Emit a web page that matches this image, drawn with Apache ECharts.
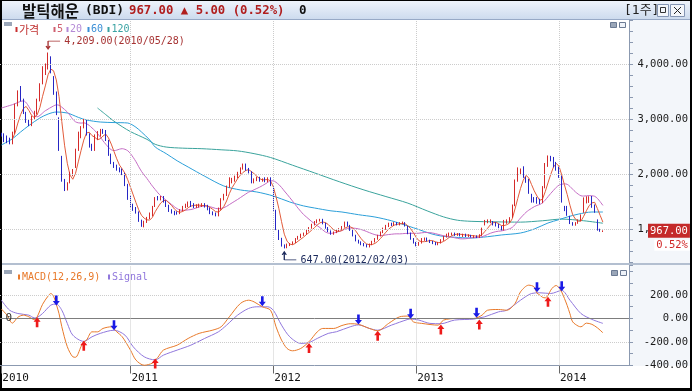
<!DOCTYPE html>
<html>
<head>
<meta charset="utf-8">
<script src="https://cdn.jsdelivr.net/npm/echarts@6/dist/echarts.min.js"></script>
<style>
html,body{margin:0;padding:0;background:#000;width:692px;height:391px;overflow:hidden;}
.bg{position:absolute;box-sizing:border-box;}
#chart{position:absolute;left:0;top:0;width:692px;height:391px;}
</style>
</head>
<body>
<div class="bg" style="left:2px;top:1px;width:688px;height:387px;background:#fff;"></div>
<div class="bg" style="left:2px;top:1px;width:688px;height:19px;background:linear-gradient(#eef3fb,#cddbee);border-bottom:1px solid #97a9c6;"></div>
<div class="bg" style="left:630px;top:20px;width:60px;height:346px;background:#f3f6fa;"></div>
<div class="bg" style="left:2px;top:262.5px;width:688px;height:2px;background:#b3bfd0;"></div>
<div id="chart"></div>
<script>
// ---------------- data ----------------
const startDate = Date.UTC(2010, 1, 12);   // first weekly bar
const padWeeks = 9;                          // empty weeks on the right
// weekly candles: [open, close, low, high]
const candles = [
[2720,2700,2680,2750],[2720,2600,2580,2740],[2680,2580,2560,2700],[2640,2560,2540,2660],[2560,2750,2540,2770],
[2750,3250,2730,3280],[3250,3490,3230,3520],[3560,3345,3320,3600],[3345,3110,3090,3370],[3110,2950,2930,3130],
[2980,2890,2870,3000],[2890,3040,2870,3060],[3020,3130,3000,3150],[3100,3345,3080,3370],[3345,3620,3320,3650],
[3650,3930,3630,3960],[3830,3980,3800,4010],[3930,4150,3900,4209],[4110,3855,3830,4140],[3745,3470,3440,3780],
[3470,3100,3070,3500],[3000,2450,2420,3030],[2300,1890,1860,2330],[1890,1710,1690,1910],[1710,1830,1700,1850],
[1850,2020,1830,2040],[1980,2070,1960,2090],[2130,2436,2110,2460],[2436,2745,2420,2770],[2670,2850,2650,2870],
[2850,2980,2830,3000],[2980,2720,2700,3000],[2720,2500,2480,2740],[2530,2440,2420,2550],[2440,2700,2420,2720],
[2640,2760,2620,2780],[2700,2800,2680,2820],[2800,2750,2730,2820],[2780,2620,2600,2800],[2600,2350,2330,2620],
[2350,2200,2180,2370],[2200,2130,2110,2220],[2150,2080,2060,2170],[2100,2050,2030,2120],[2080,2000,1980,2100],
[2000,1800,1780,2020],[1800,1550,1530,1820],[1580,1400,1380,1600],[1440,1350,1330,1460],[1380,1300,1280,1400],
[1300,1150,1130,1320],[1150,1050,1040,1170],[1050,1130,1030,1150],[1130,1200,1110,1220],[1200,1280,1180,1300],
[1250,1400,1230,1420],[1420,1560,1400,1580],[1580,1540,1520,1600],[1540,1580,1520,1600],[1580,1500,1480,1600],
[1500,1420,1400,1520],[1420,1330,1310,1440],[1340,1300,1280,1360],[1310,1270,1250,1330],[1300,1280,1260,1320],
[1290,1340,1270,1360],[1340,1400,1320,1420],[1400,1440,1380,1460],[1420,1480,1400,1500],[1490,1420,1400,1510],
[1450,1400,1380,1470],[1400,1430,1380,1450],[1410,1440,1390,1460],[1420,1450,1400,1470],[1450,1410,1390,1470],
[1420,1360,1340,1440],[1370,1290,1270,1390],[1300,1270,1250,1320],[1280,1250,1230,1300],[1250,1370,1230,1390],
[1370,1540,1350,1560],[1540,1620,1520,1640],[1620,1770,1600,1790],[1770,1920,1750,1940],[1850,1910,1830,1930],
[1880,1950,1860,1970],[1940,2020,1920,2040],[2020,2100,2000,2120],[2100,2170,2080,2190],[2170,2080,2060,2190],
[2090,2030,2010,2110],[2030,1850,1830,2050],[1850,1900,1830,1920],[1890,1930,1870,1950],[1930,1880,1860,1950],
[1880,1900,1860,1920],[1920,1870,1850,1940],[1870,1920,1850,1940],[1920,1800,1780,1940],[1750,1350,1330,1770],
[1330,1000,980,1350],[980,820,800,1000],[820,700,680,840],[700,660,647,720],[660,720,650,735],
[700,730,690,745],[730,760,715,775],[760,820,745,835],[820,860,805,875],[850,900,835,915],
[890,920,875,935],[910,980,895,995],[970,1020,955,1035],[1020,1080,1005,1095],[1080,1130,1065,1145],
[1120,1160,1105,1175],[1150,1170,1135,1185],[1170,1100,1085,1185],[1100,1020,1005,1115],[1020,960,945,1035],
[960,910,895,975],[910,940,895,955],[940,970,925,985],[970,1000,955,1015],[1000,1040,985,1055],
[1040,1120,1025,1135],[1120,1060,1045,1135],[1060,980,965,1075],[980,880,865,995],[880,790,775,895],
[790,750,735,805],[760,720,705,775],[730,700,685,745],[710,680,665,725],[680,720,665,735],
[720,770,705,785],[770,820,755,835],[820,880,805,895],[880,940,865,955],[940,1010,925,1025],
[1000,1060,985,1075],[1050,1100,1035,1115],[1100,1070,1055,1115],[1070,1110,1055,1125],[1110,1080,1065,1125],
[1080,1110,1065,1125],[1100,1120,1085,1135],[1110,1060,1045,1125],[1040,920,905,1055],[920,820,805,935],
[820,750,735,835],[750,700,685,765],[710,750,695,765],[750,820,735,835],[800,830,785,845],
[830,790,775,845],[790,760,745,805],[770,740,725,785],[750,720,705,765],[720,750,705,765],
[750,800,735,815],[800,860,785,875],[860,900,845,915],[880,920,865,935],[900,920,885,935],
[920,890,875,935],[890,910,875,925],[910,880,865,925],[870,900,855,915],[900,870,855,915],
[870,890,855,905],[880,860,845,895],[850,870,835,885],[870,850,835,885],[850,890,835,905],
[890,1010,875,1025],[1080,1150,1065,1165],[1120,1160,1105,1175],[1120,1160,1105,1175],[1130,1080,1065,1145],
[1110,1060,1045,1125],[1080,1030,1015,1095],[1040,990,975,1055],[990,1150,975,1165],[1110,1160,1095,1175],
[1130,1200,1115,1215],[1220,1430,1205,1445],[1430,1880,1415,1900],[1880,2100,1860,2120],[2000,2080,1980,2100],
[2120,1950,1930,2140],[1930,1860,1840,1950],[1890,1660,1640,1910],[1620,1500,1480,1640],[1560,1500,1480,1580],
[1560,1480,1460,1580],[1530,1470,1450,1550],[1490,1760,1470,1780],[1760,2180,1740,2200],[2150,2300,2130,2337],
[2310,2250,2230,2330],[2290,2140,2120,2310],[2200,2080,2060,2220],[2110,1950,1930,2130],[1950,1500,1480,1970],
[1400,1345,1325,1420],[1400,1260,1240,1420],[1220,1110,1090,1240],[1110,1075,1060,1125],[1075,1110,1060,1125],
[1110,1160,1095,1175],[1160,1250,1145,1265],[1310,1560,1295,1575],[1480,1580,1465,1595],[1490,1580,1475,1595],
[1580,1400,1385,1600],[1430,1310,1295,1445],[1160,985,970,1175],[990,962,950,1005],[958,967,945,975]
];
// MA lines: [weekIndex, value]
const ma20Head = [[0,3200],[4,3260],[8,3330],[11,3150],[13,3040],[16,3150]];
const ma60Pts = [[0,2527],[4,2640],[7,2764],[10,2880],[14,3018],[17,3090],[20,3127],[24,3109],[28,3030],[31,2982],
[36,2945],[41,2935],[46,2927],[49,2850],[51,2764],[54,2620],[56,2491],[60,2370],[64,2240],[68,2127],[74,1960],
[81,1782],[87,1710],[93,1673],[99,1600],[105,1491],[110,1420],[114,1382],[120,1330],[124,1309],[130,1260],
[136,1218],[142,1150],[148,1055],[152,990],[156,920],[160,873],[165,850],[171,836],[177,860],[182,891],
[189,927],[194,1000],[199,1109],[203,1170],[206,1218],[210,1270],[215,1309],[219,1309]];
const ma120Pts = [[35,3200],[38,3080],[41,2960],[44,2860],[47,2770],[50,2700],[53,2630],[56,2540],[60,2490],
[66,2470],[73,2460],[80,2440],[86,2420],[92,2370],[98,2300],[106,2160],[114,2020],[123,1860],[132,1710],
[140,1590],[148,1470],[155,1330],[161,1220],[166,1160],[171,1140],[180,1130],[189,1125],[197,1150],
[204,1180],[212,1150],[219,1105]];
// MACD(12,26,9) and signal: [weekIndex, value]
const macdPts = [[0,80],[2,30],[4,-40],[6,10],[8,28],[10,14],[12,-10],[13,12],[15,120],[17,190],[18,212],[19,190],
[20,120],[21,40],[22,-70],[24,-240],[26,-326],[27,-330],[29,-240],[30,-200],[31,-184],[33,-114],[35,-114],
[37,-85],[40,-71],[42,-114],[44,-156],[47,-269],[49,-354],[52,-398],[55,-380],[56,-355],[57,-330],[59,-269],
[64,-227],[68,-170],[72,-127],[77,-99],[80,-71],[83,14],[87,127],[90,155],[92,141],[95,99],[98,70],[100,-71],
[102,-184],[104,-255],[106,-275],[109,-255],[112,-198],[115,-114],[117,-85],[121,-85],[124,-60],[127,-45],
[130,-50],[134,-85],[137,-105],[141,-42],[145,14],[148,20],[150,-29],[153,-42],[159,-57],[161,-14],[166,0],
[172,0],[175,28],[177,70],[181,76],[184,70],[187,127],[189,226],[192,283],[194,268],[195,215],[196,200],
[197,180],[198,175],[199,195],[200,240],[201,268],[202,280],[203,260],[204,225],[205,170],[206,110],[207,40],
[208,-29],[210,-65],[211,-71],[213,-40],[215,-50],[217,-80],[219,-122]];
const signalPts = [[0,155],[3,70],[6,42],[10,28],[12,5],[13,8],[15,42],[18,113],[20,122],[22,70],[24,-42],
[26,-142],[30,-195],[33,-156],[36,-127],[41,-100],[45,-142],[48,-241],[52,-326],[56,-352],[59,-312],[64,-269],
[69,-227],[74,-170],[79,-114],[82,-57],[86,28],[90,85],[93,99],[97,99],[99,70],[102,-57],[105,-156],[109,-212],
[112,-205],[115,-170],[119,-127],[122,-113],[127,-71],[130,-55],[134,-85],[137,-100],[142,-57],[148,-8],
[149,-5],[152,-14],[156,-42],[160,-45],[165,-14],[172,-6],[174,5],[176,14],[181,56],[184,70],[189,155],
[193,212],[196,218],[200,212],[204,238],[207,155],[211,42],[215,-8],[219,-42]];
const goldenCross = [[13,10],[30,-190],[56,-340],[112,-208],[137,-105],[160,-52],[174,-10],[199,185]];
const deadCross = [[20,110],[41,-100],[95,104],[130,-52],[149,-2],[173,6],[195,222],[204,232]];
const mainTicks = [1000,2000,3000,4000];
const macdTicks = [200,0,-200,-400];
const lastClose = 967, lastChange = 5, lastPct = 0.52;
const highMark = [17, 4209, '2010/05/28'];
const lowMark = [103, 647, '2012/02/03'];

// ---------------- derived ----------------
const categories = [];
for (let i = 0; i < candles.length + padWeeks; i++) {
  categories.push(new Date(startDate + i * 7 * 86400000).toISOString().slice(0, 10));
}
const closes = candles.map(c => c[1]);
function movingAvg(n) {
  const out = [];
  for (let i = n - 1; i < closes.length; i++) {
    let s = 0; for (let k = i - n + 1; k <= i; k++) s += closes[k];
    out.push([i, s / n]);
  }
  return out;
}
const ma5 = movingAvg(5);
const ma20 = ma20Head.concat(movingAvg(20));
const fmt2 = v => v.toLocaleString('en-US', {minimumFractionDigits: 2, maximumFractionDigits: 2});
const isYearStart = (idx, val) => idx === 0 || (val.slice(5, 7) === '01' && +val.slice(8, 10) <= 7);
const yearLines = categories.map((c, i) => (i > 0 && isYearStart(i, c)) ? i : -1).filter(i => i > 0).map(i => ({xAxis: i}));

const MONO = 'DejaVu Sans Mono';
const KR = 'Noto Sans CJK KR';
const upArrow = 'path://M4,0L8,4.5L5.5,4.5L5.5,10L2.5,10L2.5,4.5L0,4.5Z';
const downArrow = 'path://M4,10L8,5.5L5.5,5.5L5.5,0L2.5,0L2.5,5.5L0,5.5Z';
const hiArrow = 'path://M2,0L14,0M2,0L2,8M0,5L2,8L4,5';
const loArrow = 'path://M2,8L14,8M2,8L2,0M0,3L2,0L4,3';

const C_UP = '#d42a2a', C_DN = '#2626c4';
const C5 = '#e25b3a', C20 = '#c46cc4', C60 = '#2b9fd9', C120 = '#3aa39c';
const CMACD = '#e8792a', CSIG = '#9077dc';
const GRIDC = '#cccccc';

function T(text, x, y, font, fill, align) {
  return {type: 'text', x: x, y: y, silent: true,
    style: {text: text, font: font, fill: fill, verticalAlign: 'middle', align: align || 'left'}};
}
function R(x, y, w, h, fill, stroke) {
  return {type: 'rect', silent: true, shape: {x: x, y: y, width: w, height: h},
    style: {fill: fill, stroke: stroke || null, lineWidth: 1}};
}
function L(x1, y1, x2, y2, stroke) {
  return {type: 'line', silent: true, shape: {x1: x1, y1: y1, x2: x2, y2: y2}, style: {stroke: stroke, lineWidth: 1}};
}

const graphics = [
  T('발틱해운', 22, 11, 'bold 15.5px "' + KR + '"', '#111'),
  T('(BDI)', 85, 11, 'bold 13px "' + MONO + '"', '#111'),
  T(fmt2(lastClose) + ' ▲ ' + fmt2(lastChange) + ' (' + lastPct.toFixed(2) + '%)', 129, 11, 'bold 12.3px "' + MONO + '", "' + KR + '"', '#b01e1e'),
  T('0', 299, 11, 'bold 12.5px "' + MONO + '"', '#111'),
  T('[1주]', 624, 11, '13px "' + MONO + '", "' + KR + '"', '#222'),
  R(657.5, 4.5, 11, 12, '#f3f6fb', '#8495b3'), R(660.5, 7.5, 5, 5, 'none', '#333'),
  R(670.5, 4.5, 14, 12, '#f3f6fb', '#8495b3'), L(674, 7, 681, 14, '#222'), L(681, 7, 674, 14, '#222'),
  R(4, 22, 8, 4, '#9aa6b8'),
  R(15.5, 27, 2, 5, '#c83030'), T('가격', 19, 29.5, '11px "' + KR + '"', '#c03030'),
  R(53.5, 27, 2, 5, '#d06070'), T('5', 57, 29.5, '10px "' + MONO + '"', '#d06070'),
  R(66.5, 27, 2, 5, '#b48ad6'), T('20', 70, 29.5, '10px "' + MONO + '"', '#b48ad6'),
  R(87.5, 27, 2, 5, '#3b8fd6'), T('60', 91, 29.5, '10px "' + MONO + '"', '#3b8fd6'),
  R(107.5, 27, 2, 5, '#3aa3a3'), T('120', 111.5, 29.5, '10px "' + MONO + '"', '#3aa3a3'),
  R(610.5, 22.5, 6, 5, '#9aa6b8', '#6b7a93'), R(619.5, 22.5, 6, 5, '#eef2f8', '#6b7a93'),
  R(4, 270, 8, 4, '#9aa6b8'),
  R(18, 274.5, 2, 5, CMACD), T('MACD(12,26,9)', 22, 277, '10px "' + MONO + '"', CMACD),
  R(108, 274.5, 2, 5, CSIG), T('Signal', 112, 277, '10px "' + MONO + '"', CSIG),
  R(611.5, 270.5, 6, 5, '#9aa6b8', '#6b7a93'), R(620.5, 270.5, 6, 5, '#eef2f8', '#6b7a93')
];

const lineBase = {type: 'line', symbol: 'none', showSymbol: false, silent: true, animation: false};

const option = {
  animation: false,
  backgroundColor: 'transparent',
  graphic: graphics,
  grid: [
    {left: 0, top: 20, width: 629, height: 242, outerBoundsMode: 'none', containLabel: false},
    {left: 0, top: 265.5, width: 629, height: 100, outerBoundsMode: 'none', containLabel: false}
  ],
  xAxis: [
    {type: 'category', gridIndex: 0, data: categories, boundaryGap: true,
      axisLine: {show: false, onZero: false}, axisTick: {show: false}, axisLabel: {show: false},
      splitLine: {show: false}},
    {type: 'category', gridIndex: 1, data: categories, boundaryGap: true, position: 'bottom',
      axisLine: {show: true, onZero: false, lineStyle: {color: '#8b99b0'}},
      axisTick: {show: true, interval: isYearStart, alignWithLabel: true, length: 8, lineStyle: {color: '#666'}},
      axisLabel: {show: true, interval: isYearStart, formatter: v => v.slice(0, 4), align: 'left', margin: 7,
        padding: [0, 0, 0, 1], color: '#111', fontFamily: MONO, fontSize: 11},
      splitLine: {show: false}}
  ],
  yAxis: [
    {type: 'value', gridIndex: 0, position: 'right', min: 400, max: 4800, interval: 200,
      axisLine: {show: true, lineStyle: {color: '#8b99b0'}},
      axisTick: {show: true, inside: false, length: 4, lineStyle: {color: '#8b99b0'}},
      axisLabel: {show: true, align: 'right', margin: 59, color: '#1a1a1a', fontFamily: MONO, fontSize: 10.5,
        formatter: v => mainTicks.includes(v) ? fmt2(v) : ''},
      splitLine: {show: false}},
    {type: 'value', gridIndex: 1, position: 'right', min: -400, max: 450, interval: 100,
      axisLine: {show: true, lineStyle: {color: '#8b99b0'}},
      axisTick: {show: true, inside: false, length: 4, lineStyle: {color: '#8b99b0'}},
      axisLabel: {show: true, align: 'right', margin: 59, color: '#1a1a1a', fontFamily: MONO, fontSize: 10.5,
        formatter: v => macdTicks.includes(v) ? fmt2(v) : ''},
      splitLine: {show: false}}
  ],
  series: [
    {type: 'candlestick', name: '가격', xAxisIndex: 0, yAxisIndex: 0, data: candles, silent: true,
      barWidth: 1, z: 3,
      itemStyle: {color: C_UP, color0: C_DN, borderColor: C_UP, borderColor0: C_DN, borderWidth: 1},
      markPoint: {silent: true, animation: false, data: [
        {coord: [highMark[0], highMark[1]], symbol: hiArrow, symbolSize: [14, 8], symbolOffset: [5, -7.5],
          itemStyle: {color: 'none', borderColor: '#a63232', borderWidth: 1},
          label: {show: true, position: 'right', distance: 1, offset: [0, -4], color: '#a63232',
            fontFamily: MONO, fontSize: 10, formatter: fmt2(highMark[1]) + '(' + highMark[2] + ')'}},
        {coord: [lowMark[0], lowMark[1]], symbol: loArrow, symbolSize: [14, 8], symbolOffset: [5, 7.5],
          itemStyle: {color: 'none', borderColor: '#1c2a5c', borderWidth: 1},
          label: {show: true, position: 'right', distance: 1, offset: [0, 4], color: '#1c2a5c',
            fontFamily: MONO, fontSize: 10, formatter: fmt2(lowMark[1]) + '(' + lowMark[2] + ')'}}
      ]}},
    Object.assign({}, lineBase, {name: '120', xAxisIndex: 0, yAxisIndex: 0, data: ma120Pts, smooth: 0.3, z: 1,
      lineStyle: {color: C120, width: 1},
      markLine: {silent: true, animation: false, symbol: ['none', 'none'], label: {show: false},
        lineStyle: {color: GRIDC, type: 'dotted', width: 1},
        data: mainTicks.map(v => ({yAxis: v})).concat(yearLines)}}),
    Object.assign({}, lineBase, {name: '60', xAxisIndex: 0, yAxisIndex: 0, data: ma60Pts, smooth: 0.3,
      lineStyle: {color: C60, width: 1}}),
    Object.assign({}, lineBase, {name: '20', xAxisIndex: 0, yAxisIndex: 0, data: ma20, smooth: 0.3,
      lineStyle: {color: C20, width: 1}}),
    Object.assign({}, lineBase, {name: '5', xAxisIndex: 0, yAxisIndex: 0, data: ma5,
      lineStyle: {color: C5, width: 1},
      markLine: {silent: true, animation: false, symbol: ['none', 'none'], data: [
        {yAxis: lastClose, lineStyle: {color: 'rgba(0,0,0,0)', width: 0},
          label: {show: true, position: 'end', distance: 19, padding: [14, 0, 0, 0],
            formatter: '{a|' + fmt2(lastClose) + '}\n{b|' + lastPct.toFixed(2) + '%}',
            rich: {a: {backgroundColor: '#c42a2a', color: '#fff', fontFamily: MONO, fontSize: 10.5, padding: [2, 2, 1, 2], lineHeight: 15},
                   b: {backgroundColor: '#fff', color: '#d02828', fontFamily: MONO, fontSize: 10.5, align: 'right', lineHeight: 14, padding: [0, 2, 0, 2]}}}}
      ]}}),
    Object.assign({}, lineBase, {name: 'Signal', xAxisIndex: 1, yAxisIndex: 1, data: signalPts, smooth: 0.3,
      lineStyle: {color: CSIG, width: 1},
      markLine: {silent: true, animation: false, symbol: ['none', 'none'], label: {show: false},
        data: [
          {yAxis: 0, lineStyle: {color: '#7d7d7d', type: 'solid', width: 1}},
          {yAxis: 200, lineStyle: {color: GRIDC, type: 'dotted', width: 1}},
          {yAxis: -200, lineStyle: {color: GRIDC, type: 'dotted', width: 1}}
        ].concat(yearLines.map(d => Object.assign({lineStyle: {color: GRIDC, type: 'dotted', width: 1}}, d)))}}),
    Object.assign({}, lineBase, {name: 'MACD', xAxisIndex: 1, yAxisIndex: 1, data: macdPts, smooth: 0.3,
      lineStyle: {color: CMACD, width: 1},
      markPoint: {silent: true, animation: false, label: {show: false}, data:
        goldenCross.map(p => ({coord: p, symbol: upArrow, symbolSize: [7, 10], symbolOffset: [0, 5],
          itemStyle: {color: '#ee1a1a'}}))
        .concat(deadCross.map(p => ({coord: p, symbol: downArrow, symbolSize: [7, 10], symbolOffset: [0, -5],
          itemStyle: {color: '#1a1ae6'}})))
        .concat([{coord: [0, 0], symbol: 'circle', symbolSize: 0,
          label: {show: true, position: 'inside', offset: [7.5, 0], formatter: '0', color: '#333',
            fontFamily: MONO, fontSize: 11}}])}})
  ]
};
const chart = echarts.init(document.getElementById('chart'), null, {renderer: 'canvas'});
chart.setOption(option);
</script>
</body>
</html>
